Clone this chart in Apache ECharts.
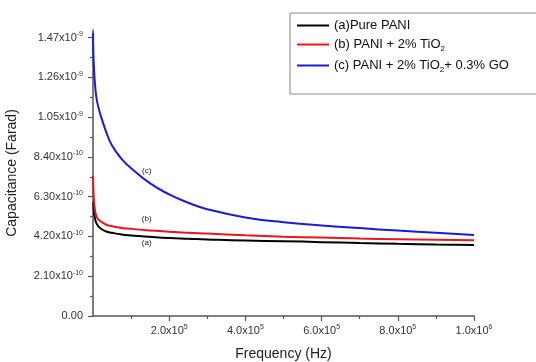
<!DOCTYPE html>
<html>
<head>
<meta charset="utf-8">
<script src="https://cdn.jsdelivr.net/npm/echarts@6/dist/echarts.min.js"></script>
<style>
  html, body { margin: 0; padding: 0; background: #fff; }
  #chart { width: 536px; height: 362px; }
</style>
</head>
<body>
<div id="chart"></div>
<script>
// frequency (Hz)
const freq = [100, 1000, 2500, 5000, 10000, 20000, 35000, 50000, 75000, 100000, 150000,
  200000, 250000, 300000, 400000, 500000, 600000, 700000, 800000, 900000, 1000000];
// capacitance, in units of 1e-10 F
const pani = [6.0, 5.9, 5.5, 5.18, 4.85, 4.62, 4.46, 4.39, 4.3, 4.25, 4.18,
  4.12, 4.08, 4.04, 3.98, 3.95, 3.9, 3.85, 3.81, 3.78, 3.75];
const paniTio2 = [7.4, 6.7, 6.1, 5.62, 5.22, 5.0, 4.82, 4.74, 4.65, 4.6, 4.52,
  4.45, 4.39, 4.35, 4.26, 4.19, 4.14, 4.09, 4.05, 4.02, 4.0];
const paniTio2Go = [14.95, 13.8, 13.1, 12.3, 11.4, 10.6, 9.7, 9.0, 8.3, 7.8, 7.0,
  6.42, 5.98, 5.64, 5.2, 4.95, 4.78, 4.64, 4.51, 4.39, 4.28];
const yTicks = [0, 2.1, 4.2, 6.3, 8.4, 10.5, 12.6, 14.7];
const xTicks = [200000, 400000, 600000, 800000, 1000000];
const names = ['(a)Pure PANI', '(b) PANI + 2% TiO2', '(c) PANI + 2% TiO2+ 0.3% GO'];

const chart = echarts.init(document.getElementById('chart'));

const pairs = (ys) => freq.map((f, i) => [f, ys[i]]);

const yLabel = (v) => {
  if (v === 0) return '{m|0.00}';
  if (v >= 10) return '{m|' + (v / 10).toFixed(2) + 'x10}{sup|-9}';
  return '{m|' + v.toFixed(2) + 'x10}{sup|-10}';
};
const xLabel = (v) => {
  if (v >= 1000000) return '{m|' + (v / 1000000).toFixed(1) + 'x10}{sup|6}';
  return '{m|' + (v / 100000).toFixed(1) + 'x10}{sup|5}';
};

const tickRich = {
  m: { fontSize: 11, color: '#333', fontFamily: 'Liberation Sans' },
  sup: { fontSize: 7, color: '#333', fontFamily: 'Liberation Sans', padding: [0, 0, 7, 0] }
};

const tag = (text, coord) => ({
  coord: coord,
  symbolSize: 0,
  label: { show: true, formatter: text, position: 'inside', fontSize: 8, color: '#222', fontFamily: 'Liberation Sans' }
});

const line = (name, color, data, mark) => ({
  name: name,
  type: 'line',
  smooth: 0.5,
  showSymbol: false,
  symbol: 'none',
  lineStyle: { color: color, width: 2 },
  itemStyle: { color: color },
  data: pairs(data),
  markPoint: { symbol: 'circle', data: [mark] },
  animation: false
});

const option = {
  animation: false,
  grid: { left: 93, right: 62, top: 30, bottom: 46, containLabel: false, outerBoundsMode: 'none' },
  legend: {
    orient: 'vertical',
    left: 290,
    top: 13,
    padding: [6, 60, 20, 7],
    itemGap: 6,
    itemWidth: 32,
    itemHeight: 2,
    icon: 'rect',
    borderColor: '#888',
    borderWidth: 1,
    borderRadius: 0,
    data: names,
    formatter: (n) => n.replace(/O2/g, 'O{sub|2}').replace(/^(.*?)(\{|$)/, '{t|$1}$2').replace(/\}([^{}]+)$/, '}{t|$1}'),
    textStyle: {
      fontSize: 13,
      color: '#111',
      fontFamily: 'Liberation Sans',
      rich: {
        t: { fontSize: 13, color: '#111', fontFamily: 'Liberation Sans' },
        sub: { fontSize: 8, color: '#111', fontFamily: 'Liberation Sans', padding: [9, 0, 0, 0] }
      }
    }
  },
  xAxis: {
    type: 'value',
    min: 0,
    max: 1000000,
    interval: 200000,
    name: 'Frequency (Hz)',
    nameLocation: 'middle',
    nameGap: 31,
    nameTextStyle: { fontSize: 14, color: '#222', fontFamily: 'Liberation Sans' },
    axisLine: { show: true, lineStyle: { color: '#555', width: 1.5 } },
    axisTick: { show: true, length: 5, inside: false, lineStyle: { color: '#555', width: 1.2 }, customValues: xTicks },
    minorTick: { show: true, splitNumber: 2, length: 3, lineStyle: { color: '#555', width: 1.2 } },
    axisLabel: { customValues: xTicks, formatter: xLabel, margin: 8, rich: tickRich },
    splitLine: { show: false }
  },
  yAxis: {
    type: 'value',
    min: 0,
    max: 15.1,
    interval: 2.1,
    name: 'Capacitance (Farad)',
    nameLocation: 'middle',
    nameGap: 74,
    nameTextStyle: { fontSize: 14, color: '#222', fontFamily: 'Liberation Sans' },
    axisLine: { show: true, lineStyle: { color: '#555', width: 1.5 } },
    axisTick: { show: true, length: 5, inside: false, lineStyle: { color: '#555', width: 1.2 }, customValues: yTicks },
    minorTick: { show: true, splitNumber: 2, length: 3, lineStyle: { color: '#555', width: 1.2 } },
    axisLabel: { customValues: yTicks, formatter: yLabel, margin: 10, rich: tickRich },
    splitLine: { show: false }
  },
  series: [
    line(names[0], '#000000', pani, tag('(a)', [141000, 3.86])),
    line(names[1], '#e8151b', paniTio2, tag('(b)', [141000, 5.12])),
    line(names[2], '#1a1adb', paniTio2Go, tag('(c)', [141000, 7.66]))
  ]
};

chart.setOption(option);
</script>
</body>
</html>
